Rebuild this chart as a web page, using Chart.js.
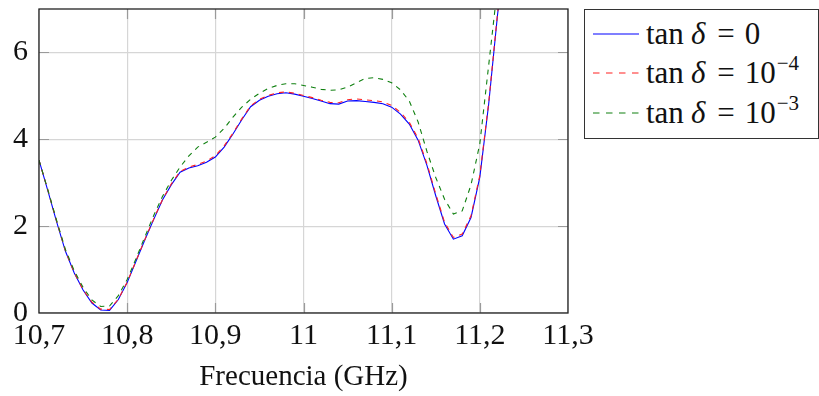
<!DOCTYPE html>
<html>
<head>
<meta charset="utf-8">
<script src="https://cdn.jsdelivr.net/npm/chart.js@4.4.1/dist/chart.umd.min.js"></script>
<style>
  html, body { margin: 0; padding: 0; background: #fff; }
  #wrap { position: relative; width: 819px; height: 396px; }
  canvas { position: absolute; left: 0; top: 0; }
  #legend {
    position: absolute; left: 584px; top: 9px; width: 235px; height: 130px;
    box-sizing: border-box; border: 1.3px solid #333; background: #fff;
    font-family: 'Liberation Serif', 'Times New Roman', serif; font-size: 31px; color: #111;
  }
  .row { position: absolute; left: 0; width: 232px; height: 36px; line-height: 36px; white-space: nowrap; }
  .sample { position: absolute; left: 8px; top: 16px; width: 46px; height: 4px; }
  .lbl { position: absolute; left: 61px; top: 0; font-family: 'Liberation Serif', 'Times New Roman', serif; }
  .lbl i { font-style: italic; display: inline-block; margin-left: 7px; }
  .lbl .eq { display: inline-block; margin: 0 10px 0 12px; }
  .lbl sup { font-size: 21px; position: relative; top: -2px; vertical-align: top; line-height: 20px; margin-left: 1px; }
</style>
</head>
<body>
<div id="wrap">
  <canvas id="c" width="819" height="396"></canvas>
  <div id="legend"></div>
</div>
<script>
// Frequency samples (GHz)
const freq = [10.70,10.71,10.72,10.73,10.74,10.75,10.76,10.77,10.78,10.79,
              10.80,10.81,10.82,10.83,10.84,10.85,10.86,10.87,10.88,10.89,
              10.90,10.91,10.92,10.93,10.94,10.95,10.96,10.97,10.98,10.99,
              11.00,11.01,11.02,11.03,11.04,11.05,11.06,11.07,11.08,11.09,
              11.10,11.11,11.12,11.13,11.14,11.15,11.16,11.17,11.18,11.19,
              11.20,11.21,11.22,11.23];

// tan δ = 0
const lossless = [3.52,2.82,2.10,1.42,0.92,0.53,0.23,0.07,0.06,0.31,
                  0.70,1.19,1.68,2.15,2.60,2.95,3.24,3.34,3.39,3.47,
                  3.59,3.82,4.12,4.45,4.75,4.90,4.99,5.05,5.07,5.04,
                  4.99,4.94,4.88,4.82,4.81,4.88,4.89,4.87,4.85,4.82,
                  4.74,4.58,4.35,3.98,3.40,2.70,2.05,1.70,1.78,2.20,
                  3.13,4.80,6.85,8.60];

// tan δ = 1e-4
const loss1e4 = [3.52,2.83,2.11,1.43,0.93,0.54,0.25,0.09,0.08,0.32,
                 0.71,1.20,1.69,2.16,2.61,2.97,3.26,3.36,3.42,3.50,
                 3.62,3.85,4.14,4.47,4.77,4.92,5.01,5.07,5.09,5.06,
                 5.01,4.96,4.90,4.85,4.84,4.91,4.93,4.91,4.89,4.86,
                 4.78,4.62,4.39,4.02,3.44,2.74,2.09,1.74,1.82,2.24,
                 3.17,4.84,6.88,8.62];

// tan δ = 1e-3
const loss1e3 = [3.52,2.84,2.13,1.46,0.97,0.59,0.30,0.15,0.16,0.40,
                 0.77,1.25,1.75,2.24,2.68,3.05,3.36,3.62,3.82,3.93,
                 4.05,4.25,4.51,4.74,4.92,5.06,5.17,5.24,5.28,5.28,
                 5.24,5.20,5.15,5.13,5.14,5.20,5.30,5.40,5.42,5.38,
                 5.30,5.14,4.88,4.40,3.72,3.12,2.62,2.28,2.35,2.95,
                 3.90,5.70,7.50,9.20];

const xTickValues = [10.7, 10.8, 10.9, 11.0, 11.1, 11.2, 11.3];
const xTickLabels = ['10,7', '10,8', '10,9', '11', '11,1', '11,2', '11,3'];
const yTickValues = [0, 2, 4, 6];
const yTickLabels = ['0', '2', '4', '6'];

const seriesNames = ['tan δ = 0', 'tan δ = 10⁻⁴', 'tan δ = 10⁻³'];
const seriesColors = ['#0000ff', '#ff2020', '#108010'];

const pts = (ys) => freq.map((f, i) => ({ x: f, y: ys[i] }));
const serif = "'Liberation Serif', 'Times New Roman', serif";

// Frame and inward tick marks on all four sides
const framePlugin = {
  id: 'frame',
  afterDatasetsDraw(chart) {
    const { ctx, chartArea: a, scales: { x, y } } = chart;
    ctx.save();
    ctx.strokeStyle = '#9a9a9a';
    ctx.lineWidth = 1.2;
    const L = 10;
    ctx.beginPath();
    xTickValues.forEach(v => {
      const px = Math.round(x.getPixelForValue(v)) + 0.5;
      if (px <= a.left + 1 || px >= a.right - 1) return;
      ctx.moveTo(px, a.bottom); ctx.lineTo(px, a.bottom - L);
      ctx.moveTo(px, a.top); ctx.lineTo(px, a.top + L);
    });
    yTickValues.forEach(v => {
      const py = Math.round(y.getPixelForValue(v)) + 0.5;
      if (py >= a.bottom - 1 || py <= a.top + 1) return;
      ctx.moveTo(a.left, py); ctx.lineTo(a.left + L, py);
      ctx.moveTo(a.right, py); ctx.lineTo(a.right - L, py);
    });
    ctx.stroke();
    ctx.strokeStyle = '#222';
    ctx.lineWidth = 1.3;
    ctx.strokeRect(a.left, a.top, a.right - a.left, a.bottom - a.top);
    ctx.restore();
  }
};

new Chart(document.getElementById('c'), {
  type: 'line',
  data: {
    datasets: [
      { label: seriesNames[0], data: pts(lossless), borderColor: seriesColors[0], borderWidth: 1.1 },
      { label: seriesNames[1], data: pts(loss1e4), borderColor: seriesColors[1], borderWidth: 1.1, borderDash: [5, 5] },
      { label: seriesNames[2], data: pts(loss1e3), borderColor: seriesColors[2], borderWidth: 1.1, borderDash: [5, 5] }
    ].reverse()
  },
  options: {
    responsive: false,
    animation: false,
    events: [],
    layout: { padding: { left: 0, top: 9, right: 251, bottom: 0 } },
    elements: { point: { radius: 0 }, line: { tension: 0 } },
    plugins: { legend: { display: false }, tooltip: { enabled: false } },
    scales: {
      x: {
        type: 'linear', min: 10.7, max: 11.3,
        afterBuildTicks: (s) => { s.ticks = xTickValues.map(v => ({ value: v })); },
        afterFit: (s) => { s.height = 83; s.paddingLeft = 0; s.paddingRight = 0; },
        grid: { color: '#d6d6d6', lineWidth: 1.2, drawTicks: false },
        border: { display: false },
        ticks: {
          padding: 5, color: '#111', maxRotation: 0, autoSkip: false,
          font: { family: serif, size: 30 },
          callback: (v, i) => xTickLabels[i]
        },
        title: {
          display: true, text: 'Frecuencia (GHz)', color: '#111',
          font: { family: serif, size: 29 }, padding: { top: 0, bottom: 1 }
        }
      },
      y: {
        type: 'linear', min: 0, max: 7,
        afterBuildTicks: (s) => { s.ticks = yTickValues.map(v => ({ value: v })); },
        afterFit: (s) => { s.width = 39; s.paddingTop = 0; s.paddingBottom = 0; },
        grid: { color: '#d6d6d6', lineWidth: 1.2, drawTicks: false },
        border: { display: false },
        ticks: {
          padding: 11, color: '#111',
          font: { family: serif, size: 30 },
          callback: (v, i) => yTickLabels[i]
        }
      }
    }
  },
  plugins: [framePlugin]
});

// Legend box to the right of the plot
const legendRows = [
  { html: 'tan<i>δ</i><span class="eq">=</span>0', dash: false },
  { html: 'tan<i>δ</i><span class="eq">=</span>10<sup>−4</sup>', dash: true },
  { html: 'tan<i>δ</i><span class="eq">=</span>10<sup>−3</sup>', dash: true }
];
const legend = document.getElementById('legend');
const rowTops = [6, 45, 85];
const svgNS = 'http://www.w3.org/2000/svg';
legendRows.forEach((r, i) => {
  const row = document.createElement('div');
  row.className = 'row';
  row.style.top = rowTops[i] + 'px';
  const svg = document.createElementNS(svgNS, 'svg');
  svg.setAttribute('class', 'sample');
  svg.setAttribute('width', '46');
  svg.setAttribute('height', '4');
  const ln = document.createElementNS(svgNS, 'line');
  ln.setAttribute('x1', '0'); ln.setAttribute('y1', '2');
  ln.setAttribute('x2', '46'); ln.setAttribute('y2', '2');
  ln.setAttribute('stroke', seriesColors[i]);
  ln.setAttribute('stroke-width', '1.2');
  if (r.dash) ln.setAttribute('stroke-dasharray', '6.5 6.5');
  svg.appendChild(ln);
  const l = document.createElement('div');
  l.className = 'lbl';
  l.innerHTML = r.html;
  row.appendChild(svg);
  row.appendChild(l);
  legend.appendChild(row);
});
</script>
</body>
</html>
